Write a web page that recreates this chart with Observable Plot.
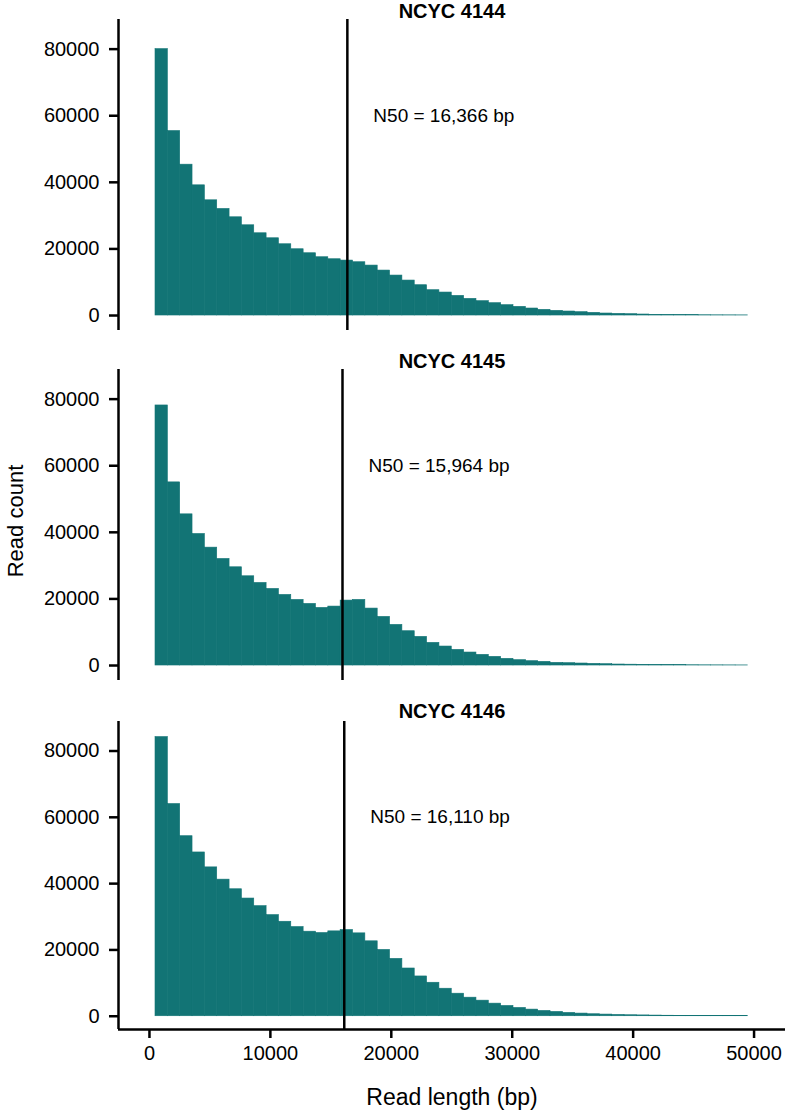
<!DOCTYPE html>
<html><head><meta charset="utf-8">
<script src="https://cdn.jsdelivr.net/npm/d3@7"></script>
<script src="https://cdn.jsdelivr.net/npm/@observablehq/plot@0.6"></script>
<style>
body{margin:0;background:#fff;}
#chart{position:relative;width:789px;height:1120px;font-family:"Liberation Sans",Arial,sans-serif;}
#chart svg{position:absolute;left:0;}
</style></head><body><div id="chart"></div>
<script>
const strains = ["NCYC 4144", "NCYC 4145", "NCYC 4146"];
const n50Values = [16366, 15964, 16110];
const n50Labels = ["N50 = 16,366 bp", "N50 = 15,964 bp", "N50 = 16,110 bp"];
const binStart = 500;
const binEnd = 49500;
const counts4144 = [80000, 55400, 45300, 39100, 34600, 32000, 29500, 27100, 24700, 23200, 21400, 19900, 18700, 17500, 16900, 16500, 16000, 15000, 13500, 12000, 10500, 9100, 7600, 6900, 5900, 5000, 4300, 3700, 3100, 2600, 2100, 1700, 1400, 1200, 1000, 800, 600, 500, 400, 300, 200, 150, 120, 100, 80, 60, 50, 40];
const counts4145 = [78100, 55000, 45400, 39500, 35400, 32000, 29500, 26800, 24800, 23000, 21200, 19700, 18500, 17300, 17700, 19500, 19700, 17100, 14600, 12200, 10300, 8600, 6800, 5700, 4700, 3900, 3200, 2600, 2000, 1600, 1300, 1100, 800, 700, 600, 500, 400, 300, 250, 200, 150, 120, 100, 80, 60, 50, 40, 30];
const counts4146 = [84200, 64000, 54300, 49400, 44900, 41200, 38300, 35500, 33200, 30500, 28500, 26900, 25500, 25100, 25600, 26000, 25000, 22600, 20000, 17300, 14400, 12000, 10100, 8300, 6800, 5600, 4700, 3800, 3100, 2500, 2000, 1600, 1300, 1000, 800, 600, 500, 400, 300, 250, 200, 150, 120, 100, 80, 60, 50, 40];
const xTicks = [0, 10000, 20000, 30000, 40000, 50000];
const yTicks = [0, 20000, 40000, 60000, 80000];
const xLabel = "Read length (bp)";
const yLabel = "Read count";

const allCounts = [counts4144, counts4145, counts4146];
const teal = "#127475";
const font = "Liberation Sans, Arial, sans-serif";
const xDomain = [-2560, 52600];
const layout = [
  {top: 0, height: 350, marginTop: 19, frameH: 311, yDomain: [-4500, 88900], titleDy: -8},
  {top: 350, height: 350, marginTop: 19, frameH: 311, yDomain: [-4500, 88900], titleDy: -8},
  {top: 700, height: 420, marginTop: 21, frameH: 308, yDomain: [-4000, 88900], titleDy: -10}
];
const fmt = d => String(d);
const chart = document.getElementById("chart");

strains.forEach((name, i) => {
  const counts = allCounts[i];
  const w = (binEnd - binStart) / counts.length;
  const bins = counts.map((c, j) => ({x1: binStart + j * w, x2: binStart + (j + 1) * w, count: c}));
  const last = i === strains.length - 1;
  const L = layout[i];
  const marks = [
    Plot.rectY(bins, {x1: "x1", x2: "x2", y: "count", fill: teal, stroke: teal, strokeWidth: 0.6}),
    Plot.ruleX([xDomain[0]], {stroke: "#000", strokeWidth: 2.5}),
    Plot.ruleX([n50Values[i]], {stroke: "#000", strokeWidth: 2.5}),
    Plot.text([n50Labels[i]], {x: n50Values[i], y: 60000, text: d => d, dx: 26, textAnchor: "start", lineAnchor: "middle", fontSize: 19, fill: "#000"}),
    Plot.text([name], {frameAnchor: "top", dy: L.titleDy, lineAnchor: "middle", textAnchor: "middle", text: d => d, fontWeight: "bold", fontSize: 20, fill: "#000"}),
    Plot.axisY({ticks: yTicks, tickSize: 9, tickPadding: 10, tickFormat: fmt, fontSize: 20, strokeWidth: 2.5, label: null, fill: "#000", stroke: "#000"})
  ];
  if (i === 1) {
    marks.push(Plot.text([yLabel], {frameAnchor: "left", rotate: -90, dx: -103, dy: -4, textAnchor: "middle", lineAnchor: "middle", text: d => d, fontSize: 22, fill: "#000"}));
  }
  if (last) {
    marks.push(Plot.ruleY([L.yDomain[0]], {stroke: "#000", strokeWidth: 2.5}));
    marks.push(Plot.axisX({ticks: xTicks, tickSize: 9, tickPadding: 7, tickFormat: fmt, fontSize: 20, strokeWidth: 2.5, label: null, fill: "#000", stroke: "#000"}));
    marks.push(Plot.text([xLabel], {frameAnchor: "bottom", dy: 68, textAnchor: "middle", lineAnchor: "middle", text: d => d, fontSize: 23, fill: "#000"}));
  }
  const svg = Plot.plot({
    width: 789,
    height: L.height,
    marginTop: L.marginTop,
    marginBottom: L.height - L.marginTop - L.frameH,
    marginLeft: 118,
    marginRight: 4,
    style: {fontFamily: font, background: "white", color: "#000"},
    x: {domain: xDomain, axis: last ? undefined : null},
    y: {domain: L.yDomain},
    marks
  });
  svg.style.top = L.top + "px";
  chart.appendChild(svg);
});
</script></body></html>
